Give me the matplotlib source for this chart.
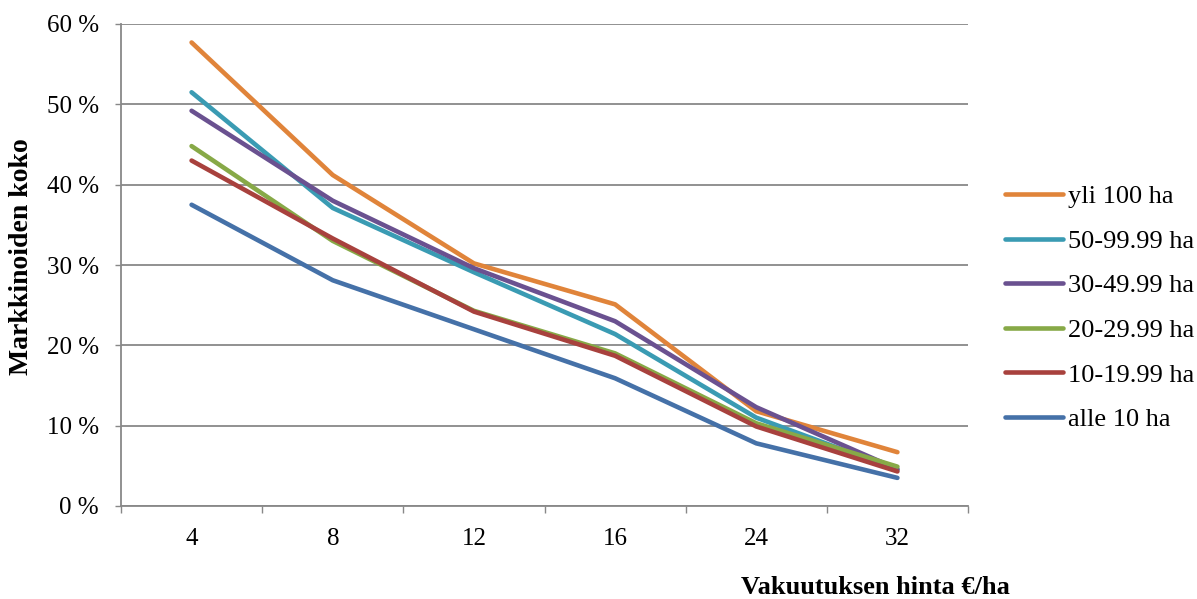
"""Market size by farm size class vs. insurance price."""
import matplotlib; matplotlib.use('Agg')
import matplotlib.pyplot as plt
import numpy as np

plt.rcParams.update({
    'font.family': 'Liberation Serif',
    'font.size': 18,
})

prices = ['4', '8', '12', '16', '24', '32']
yticks = [0, 10, 20, 30, 40, 50, 60]

labels = ['yli 100 ha', '50-99.99 ha', '30-49.99 ha',
          '20-29.99 ha', '10-19.99 ha', 'alle 10 ha']
yli_100 = [57.7, 41.2, 30.2, 25.1, 11.8, 6.7]
ha_50_99 = [51.5, 37.1, 29.1, 21.4, 11.0, 4.5]
ha_30_49 = [49.2, 38.0, 29.6, 23.0, 12.3, 4.6]
ha_20_29 = [44.8, 33.0, 24.3, 19.0, 10.3, 4.9]
ha_10_19 = [43.0, 33.3, 24.2, 18.7, 9.9, 4.3]
alle_10 = [37.5, 28.1, 22.0, 15.9, 7.8, 3.5]
series = [yli_100, ha_50_99, ha_30_49, ha_20_29, ha_10_19, alle_10]
colors = ['#E0843A', '#3A9BB3', '#6A5190', '#87A947', '#A8413D', '#4571A8']

fig = plt.figure(figsize=(11.97, 5.99), dpi=100)
ax = fig.add_axes([121/1197, 1 - 506/599, (968 - 121)/1197, (506 - 24)/599])

x = np.arange(len(prices))
for vals, lab, c in zip(series, labels, colors):
    ax.plot(x, vals, color=c, lw=3.3, label=lab, solid_capstyle='round',
            solid_joinstyle='round')

ax.set_xlim(-0.5, len(prices) - 0.5)
ax.set_ylim(0, 60)

# category boundaries carry the tick marks, centres carry the labels
ax.set_xticks(np.arange(-0.5, len(prices), 1.0))
ax.set_xticklabels([])
ax.set_xticks(x, minor=True)
ax.set_xticklabels(prices, minor=True)
ax.tick_params(axis='x', which='major', length=5, width=1, color='#888888')
ax.tick_params(axis='x', which='minor', length=0, pad=16, labelsize=18)

ax.set_yticks(yticks)
ax.set_yticklabels([f'{v} %' for v in yticks])
ax.tick_params(axis='y', length=4, width=1, color='#888888', pad=12, labelsize=18)

ax.grid(axis='y', color='#888888', lw=1.3)
ax.set_axisbelow(True)
for s in ['top', 'right']:
    ax.spines[s].set_visible(False)
for s in ['left', 'bottom']:
    ax.spines[s].set_color('#888888')
    ax.spines[s].set_linewidth(1.3)

fig.text(22/1197, 1 - 257/599, 'Markkinoiden koko', rotation=90,
         ha='center', va='center', fontsize=20, fontweight='bold')
fig.text(1010/1197, 1 - 588/599, 'Vakuutuksen hinta €/ha',
         ha='right', va='center', fontsize=19, fontweight='bold')

ax.legend(loc='center left', bbox_to_anchor=(1005/1197, 1 - 308/599),
          bbox_transform=fig.transFigure, frameon=False, borderpad=0,
          borderaxespad=0, handlelength=2.2, handletextpad=0.2,
          labelspacing=0.8, fontsize=19)

fig.savefig('out.png', dpi=100)
plt.close()
